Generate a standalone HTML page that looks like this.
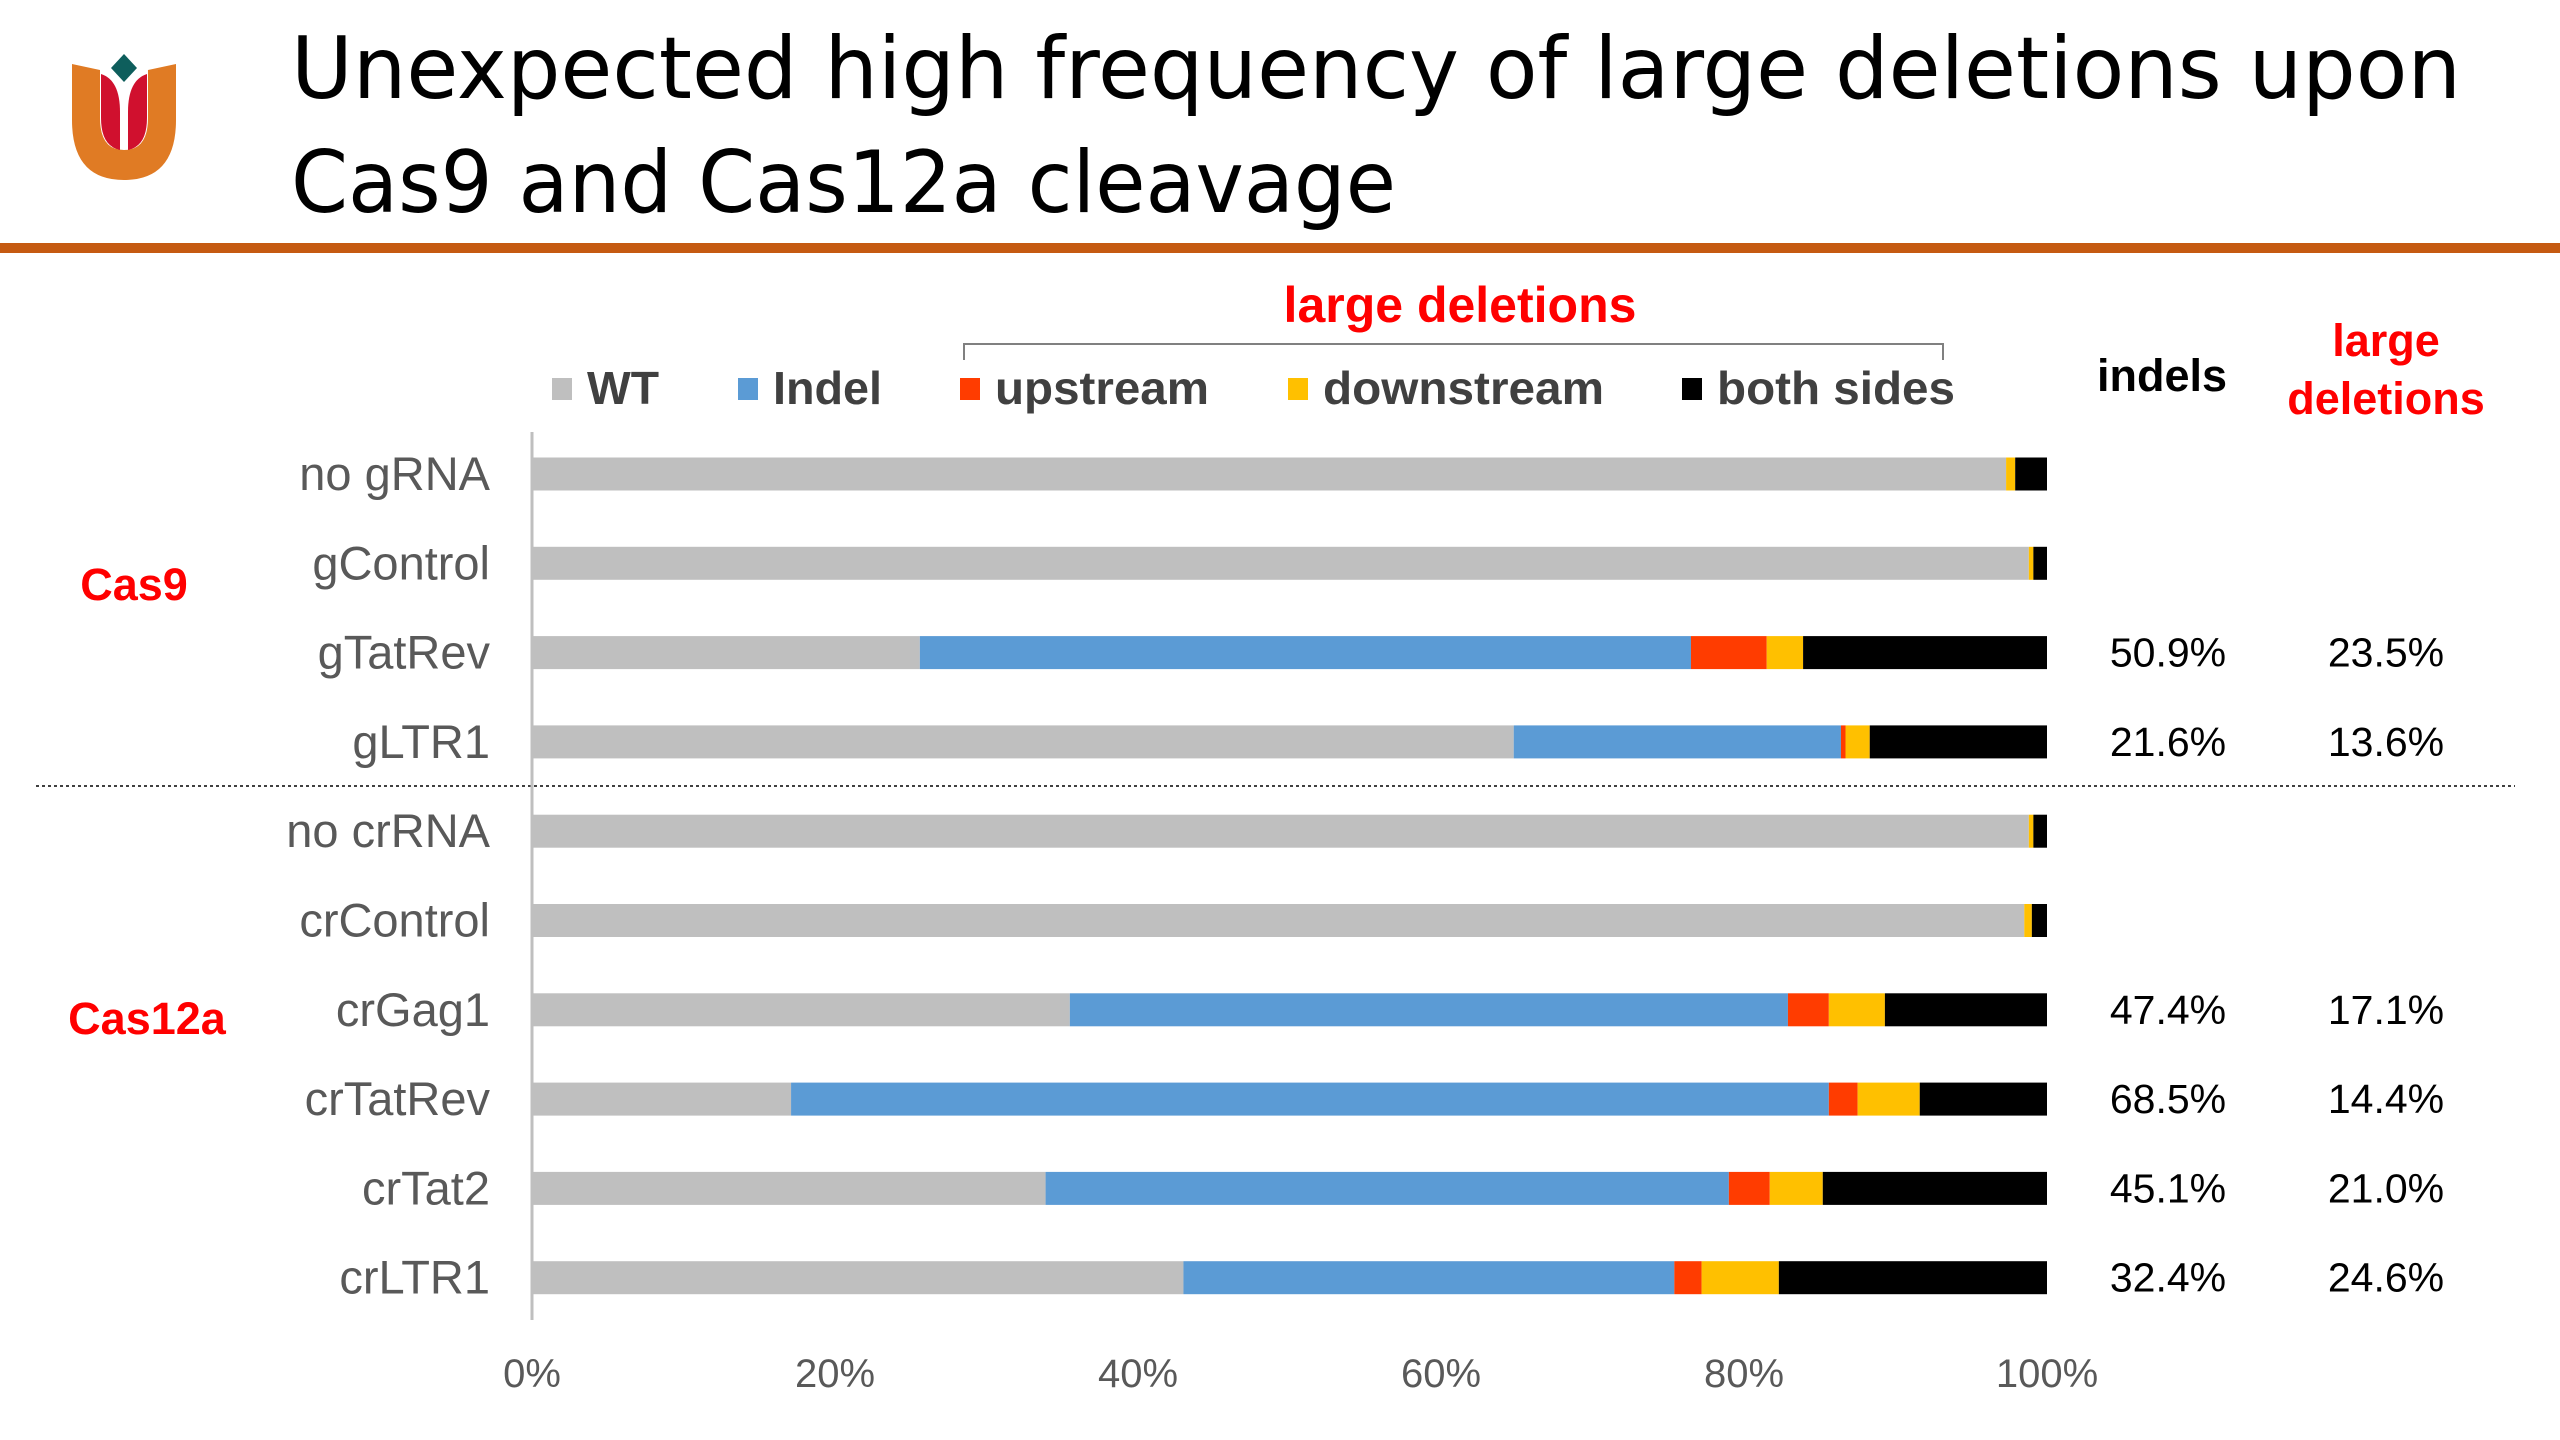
<!DOCTYPE html>
<html><head><meta charset="utf-8"><style>
html,body{margin:0;padding:0;background:#fff;}
svg{display:block;}
</style></head><body>
<svg id="chart" width="2560" height="1440" viewBox="0 0 2560 1440" xmlns="http://www.w3.org/2000/svg">
<rect x="0" y="0" width="2560" height="1440" fill="#fff"/>
<g>
  <path d="M72 64 L100 70 L100 118 Q100 150 124 150 Q148 150 148 118 L148 70 L176 64 L176 120 Q176 180 124 180 Q72 180 72 120 Z" fill="#E07B24"/>
  <path d="M101 74 Q120 80 120 112 L120 150 Q101 146 101 118 Z" fill="#D0102E"/>
  <path d="M147 74 Q128 80 128 112 L128 150 Q147 146 147 118 Z" fill="#D0102E"/>
  <path d="M124 54 L137 68 L124 82 L111 68 Z" fill="#0E5E5C"/>
</g>
<text x="291" y="98" font-family="DejaVu Sans, sans-serif" font-size="86" fill="#000" textLength="2170" lengthAdjust="spacingAndGlyphs">Unexpected high frequency of large deletions upon</text>
<text x="291" y="212" font-family="DejaVu Sans, sans-serif" font-size="86" fill="#000" textLength="1105" lengthAdjust="spacingAndGlyphs">Cas9 and Cas12a cleavage</text>
<rect x="0" y="243" width="2560" height="10" fill="#C55A11"/>

<text x="1460" y="322" text-anchor="middle" font-family="Liberation Sans, sans-serif" font-weight="bold" font-size="50" fill="#FF0000">large deletions</text>
<path d="M964 360 L964 344 L1943 344 L1943 360" fill="none" stroke="#808080" stroke-width="2"/>

<g id="legend"></g>

<text x="2162" y="391" text-anchor="middle" font-family="Liberation Sans, sans-serif" font-weight="bold" font-size="45" fill="#000">indels</text>
<text x="2386" y="356" text-anchor="middle" font-family="Liberation Sans, sans-serif" font-weight="bold" font-size="45" fill="#FF0000">large</text>
<text x="2386" y="414" text-anchor="middle" font-family="Liberation Sans, sans-serif" font-weight="bold" font-size="45" fill="#FF0000">deletions</text>

<text x="134" y="600" text-anchor="middle" font-family="Liberation Sans, sans-serif" font-weight="bold" font-size="45" fill="#FF0000">Cas9</text>
<text x="147" y="1034" text-anchor="middle" font-family="Liberation Sans, sans-serif" font-weight="bold" font-size="45" fill="#FF0000">Cas12a</text>
<line x1="36" y1="786" x2="2515" y2="786" stroke="#404040" stroke-width="2" stroke-dasharray="3,3"/>

<g id="bars"></g>
<line x1="532" y1="432" x2="532" y2="1320" stroke="#BFBFBF" stroke-width="3"/>
<g id="xticks"></g>
<g id="cats"></g>
<g id="vals"></g>
</svg>
<script>
const categories = ["no gRNA","gControl","gTatRev","gLTR1","no crRNA","crControl","crGag1","crTatRev","crTat2","crLTR1"];
const wt         = [97.3, 98.8, 25.6, 64.8, 98.8, 98.5, 35.5, 17.1, 33.9, 43.0];
const indel      = [0, 0, 50.9, 21.6, 0, 0, 47.4, 68.5, 45.1, 32.4];
const upstream   = [0, 0, 5.0, 0.3, 0, 0, 2.7, 1.9, 2.7, 1.8];
const downstream = [0.6, 0.3, 2.4, 1.6, 0.3, 0.5, 3.7, 4.1, 3.5, 5.1];
const bothSides  = [2.1, 0.9, 16.1, 11.7, 0.9, 1.0, 10.7, 8.4, 14.8, 17.7];
const indelLabels = ["","","50.9%","21.6%","","","47.4%","68.5%","45.1%","32.4%"];
const largeDelLabels = ["","","23.5%","13.6%","","","17.1%","14.4%","21.0%","24.6%"];
const xTicks = [0,20,40,60,80,100];
const seriesNames = ["WT","Indel","upstream","downstream","both sides"];

const NS="http://www.w3.org/2000/svg";
const colors=["#BFBFBF","#5B9BD5","#FF3C00","#FFC000","#000000"];
const series=[wt,indel,upstream,downstream,bothSides];
const x0=532,x1=2047,rowY0=474,rowStep=89.3,barH=33;
const xs=v=>x0+(x1-x0)*v/100;
const ys=i=>rowY0+rowStep*i;
function mk(tag,attrs,parent,txt){const e=document.createElementNS(NS,tag);for(const k in attrs)e.setAttribute(k,attrs[k]);if(txt!==undefined)e.textContent=txt;parent.appendChild(e);return e;}
const bars=document.getElementById('bars'),cats=document.getElementById('cats'),vals=document.getElementById('vals'),xt=document.getElementById('xticks'),lg=document.getElementById('legend');
categories.forEach((c,i)=>{
  let acc=0;
  series.forEach((s,k)=>{
    const v=s[i];
    if(v>0){
      const r=mk('rect',{x:xs(acc),y:ys(i)-barH/2,width:xs(acc+v)-xs(acc),height:barH,fill:colors[k]},bars);
      
      
    }
    acc+=v;
  });
  const t=mk('text',{x:490,y:ys(i)+16,'text-anchor':'end','font-family':'Liberation Sans, sans-serif','font-size':47,fill:'#595959'},cats,c);
  
  
  if(indelLabels[i]){
    const a=mk('text',{x:2168,y:ys(i)+14,'text-anchor':'middle','font-family':'Liberation Sans, sans-serif','font-size':41,fill:'#000'},vals,indelLabels[i]);
    
    
  }
  if(largeDelLabels[i]){
    const b=mk('text',{x:2386,y:ys(i)+14,'text-anchor':'middle','font-family':'Liberation Sans, sans-serif','font-size':41,fill:'#000'},vals,largeDelLabels[i]);
    
    
  }
});
xTicks.forEach(v=>{
  const t=mk('text',{x:xs(v),y:1387,'text-anchor':'middle','font-family':'Liberation Sans, sans-serif','font-size':40,fill:'#595959'},xt,v+'%');
  
  
});
const lgX=[552,738,960,1288,1682],lgW=[72,109,214,281,238];
seriesNames.forEach((n,k)=>{
  const g=mk('g',{},lg);
  
  
  mk('rect',{x:lgX[k],y:378,width:20,height:22,fill:colors[k]},g);
  mk('text',{x:lgX[k]+35,y:404,'font-family':'Liberation Sans, sans-serif','font-weight':'bold','font-size':46,fill:'#404040',textLength:lgW[k],lengthAdjust:'spacingAndGlyphs'},g,n);
});
</script>
</body></html>
